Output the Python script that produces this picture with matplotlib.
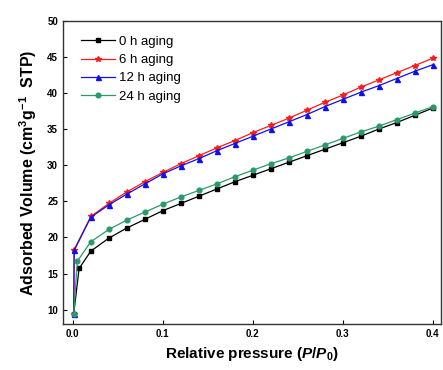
import matplotlib
matplotlib.use("Agg")
import matplotlib.pyplot as plt

plt.rcParams['font.family'] = ['Liberation Sans', 'DejaVu Sans']
plt.rcParams['mathtext.fontset'] = 'custom'
plt.rcParams['mathtext.rm'] = 'Liberation Sans:bold'
plt.rcParams['mathtext.it'] = 'Liberation Sans:bold:italic'
plt.rcParams['mathtext.bf'] = 'Liberation Sans:bold'

labels = ["0 h aging", "6 h aging", "12 h aging", "24 h aging"]
colors = ["#000000", "#ff1a1a", "#1010ee", "#2a9a6a"]
markers = ["s", "*", "^", "o"]

x_main = [0.02, 0.04, 0.06, 0.08, 0.10, 0.12, 0.14, 0.16, 0.18, 0.20,
          0.22, 0.24, 0.26, 0.28, 0.30, 0.32, 0.34, 0.36, 0.38, 0.40]

x_0h = [0.001, 0.007] + x_main
y_0h = [9.4, 15.7, 18.1, 19.9, 21.3, 22.5, 23.7, 24.7, 25.7, 26.7, 27.7, 28.6,
        29.5, 30.4, 31.3, 32.2, 33.1, 34.0, 35.0, 35.9, 36.9, 37.9]

x_6h = [0.001, 0.0015] + x_main
y_6h = [9.4, 18.3, 22.9, 24.7, 26.3, 27.7, 29.0, 30.2, 31.3, 32.4, 33.4, 34.5,
        35.5, 36.5, 37.6, 38.7, 39.7, 40.8, 41.8, 42.8, 43.8, 44.8]

x_12h = [0.001, 0.0015] + x_main
y_12h = [9.4, 18.2, 22.8, 24.5, 26.0, 27.4, 28.8, 29.9, 30.9, 32.0, 33.0, 34.0,
         35.0, 36.0, 37.0, 38.1, 39.1, 40.1, 41.0, 42.0, 43.0, 43.9]

x_24h = [0.001, 0.005] + x_main
y_24h = [9.4, 16.7, 19.4, 21.1, 22.4, 23.5, 24.6, 25.6, 26.5, 27.4, 28.4, 29.3,
         30.2, 31.0, 31.9, 32.8, 33.7, 34.6, 35.4, 36.3, 37.2, 38.1]

series = [(x_0h, y_0h), (x_6h, y_6h), (x_12h, y_12h), (x_24h, y_24h)]
msizes = [3.2, 4.0, 3.6, 3.4]

fig = plt.figure(figsize=(4.43, 3.70), dpi=100)
ax = fig.add_axes([0.142, 0.124, 0.853, 0.82])

for (xs, ys), lab, c, m, ms in zip(series, labels, colors, markers, msizes):
    ax.plot(xs, ys, color=c, marker=m, markersize=ms, linewidth=0.9, label=lab)

ax.set_xlim(-0.011, 0.409)
ax.set_ylim(8, 50)
ax.set_xticks([0.0, 0.1, 0.2, 0.3, 0.4])
ax.set_yticks([10, 15, 20, 25, 30, 35, 40, 45, 50])
ax.tick_params(direction='in', length=3, width=0.8, labelsize=7)
for lbl in ax.get_xticklabels() + ax.get_yticklabels():
    lbl.set_fontweight('bold')

for s in ax.spines.values():
    s.set_linewidth(1.0)
    s.set_color('#333333')

ax.set_xlabel(r"Relative pressure ($P$/$P_0$)", fontsize=11, fontweight='bold', labelpad=4)
ax.set_ylabel(r"Adsorbed Volume (cm$^3$g$^{-1}$  STP)", fontsize=11.5, fontweight='bold', labelpad=6)

ax.legend(loc='upper left', bbox_to_anchor=(0.02, 0.985), frameon=False, fontsize=9.5,
          handlelength=2.6, handletextpad=0.3, labelspacing=0.45, borderpad=0.3)

fig.savefig("out.png", dpi=100)
